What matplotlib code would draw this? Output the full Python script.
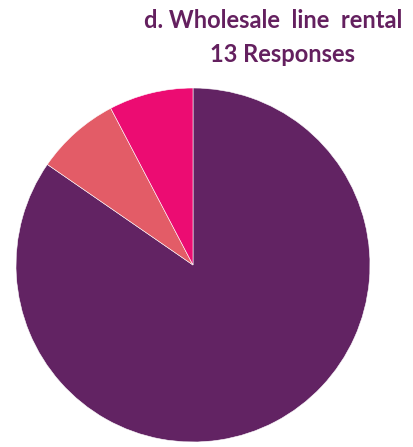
import matplotlib
matplotlib.use("Agg")
import matplotlib.pyplot as plt

labels = ["Yes", "Partly", "No"]
responses = [11, 1, 1]
colors = ["#622363", "#E35C67", "#EC0C72"]
title_lines = ["d. Wholesale  line  rental", f"{sum(responses)} Responses"]

W, H = 414, 447
fig = plt.figure(figsize=(W / 100, H / 100), dpi=100)

cx, cy, r = 193, 265, 177
ax = fig.add_axes([(cx - r) / W, (H - cy - r) / H, 2 * r / W, 2 * r / H])
ax.pie(responses, colors=colors, startangle=90, counterclock=False, radius=1,
       wedgeprops=dict(edgecolor="white", linewidth=0.4))
ax.set_xlim(-1, 1)
ax.set_ylim(-1, 1)
ax.set_aspect("equal")
ax.axis("off")

title_color = "#64205F"
fig.text(273 / W, 1 - 20 / H, title_lines[0], ha="center", va="center",
         fontsize=17, fontweight="bold", family="Lato", color=title_color)
fig.text(282 / W, 1 - 54 / H, title_lines[1], ha="center", va="center",
         fontsize=17, fontweight="bold", family="Lato", color=title_color)

fig.savefig("out.png", dpi=100)
